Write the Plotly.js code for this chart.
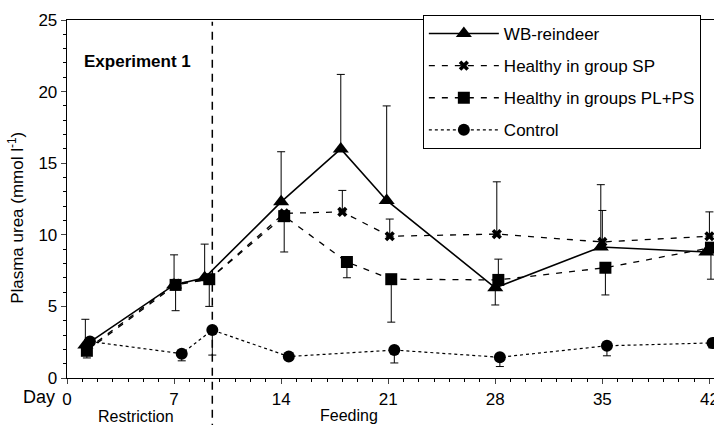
<!DOCTYPE html>
<html><head><meta charset="utf-8">
<script src="https://cdn.plot.ly/plotly-3.0.1.min.js"></script>
<style>html,body{margin:0;padding:0;background:#fff}#chart{width:714px;height:425px}</style>
</head><body><div id="chart"></div>
<script>
// WB-reindeer
const wbX = [1.2, 7.0, 9.0, 14.0, 17.9, 20.9, 28.0, 34.9, 41.8];
const wbY = [2.3, 6.5, 7.0, 12.3, 16.0, 12.4, 6.3, 9.15, 8.8];
const wbUp = [1.8, 2.1, 2.35, 3.5, 5.2, 6.6, 0, 4.35, 0];
const wbDown = [0, 0, 0, 0, 0, 0, 1.2, 0, 0];
// Healthy in group SP
const spX = [1.3, 7.1, 9.3, 14.2, 18.0, 21.1, 28.1, 35.0, 42.0];
const spY = [2.0, 6.6, 6.9, 11.5, 11.6, 9.9, 10.05, 9.5, 9.9];
const spUp = [0, 0, 0, 0, 1.5, 1.2, 3.65, 2.2, 1.7];
const spDown = [0, 0, 0, 0, 0, 0, 0, 0, 0];
// Healthy in groups PL+PS
const plX = [1.3, 7.1, 9.3, 14.2, 18.3, 21.2, 28.2, 35.2, 42.1];
const plY = [1.9, 6.5, 6.9, 11.3, 8.1, 6.9, 6.85, 7.7, 9.1];
const plUp = [0, 0, 0, 0, 0, 0, 1.45, 0, 0];
const plDown = [0.5, 1.8, 1.9, 2.5, 1.1, 3.0, 0, 1.9, 2.2];
// Control
const ctX = [1.5, 7.5, 9.5, 14.5, 21.4, 28.3, 35.3, 42.2];
const ctY = [2.55, 1.7, 3.35, 1.5, 1.95, 1.45, 2.25, 2.45];
const ctUp = [0, 0, 0, 0, 0, 0, 0, 0];
const ctDown = [0, 0.5, 1.75, 0, 0.9, 0.65, 0.7, 0.35];

const xTicks = [0, 7, 14, 21, 28, 35, 42];
const yTicks = [0, 5, 10, 15, 20, 25];
const dividerDay = 9.5;

const FONT = 'Liberation Sans, Arial, sans-serif';
function err(up, down) {
  return {type: 'data', symmetric: false, array: up, arrayminus: down,
          color: '#000', thickness: 1, width: 4};
}
const traces = [
  {x: wbX, y: wbY, name: 'WB-reindeer', mode: 'lines+markers', legendgroup: 'a',
   line: {color: '#000', width: 1.6}, marker: {symbol: 'triangle-up', size: 14, color: '#000'},
   error_y: err(wbUp, wbDown)},
  {x: spX, y: spY, name: 'Healthy in group SP', mode: 'lines+markers', legendgroup: 'b',
   line: {color: '#000', width: 1.3, dash: '6px,7px'}, marker: {symbol: 'x', size: 9, color: '#000'},
   error_y: err(spUp, spDown)},
  {x: plX, y: plY, name: 'Healthy in groups PL+PS', mode: 'lines+markers', legendgroup: 'c',
   line: {color: '#000', width: 1.3, dash: '6px,7px'}, marker: {symbol: 'square', size: 12, color: '#000'},
   error_y: err(plUp, plDown)},
  {x: ctX, y: ctY, name: 'Control', mode: 'lines+markers', legendgroup: 'd',
   line: {color: '#000', width: 1.2, dash: 'dot'}, marker: {symbol: 'circle', size: 12, color: '#000'},
   error_y: err(ctUp, ctDown)}
];

const layout = {
  width: 714, height: 425,
  margin: {l: 67, r: 0, t: 20, b: 47},
  paper_bgcolor: '#fff', plot_bgcolor: '#fff',
  font: {family: FONT, size: 17, color: '#000'},
  showlegend: true,
  legend: {x: 0.55, y: 1.014, xanchor: 'left', yanchor: 'top', bordercolor: '#000', borderwidth: 1,
           bgcolor: '#fff', traceorder: 'grouped', tracegroupgap: 7, itemwidth: 70,
           font: {family: FONT, size: 17, color: '#000'}},
  xaxis: {range: [0, 42.3], tickvals: xTicks, ticktext: xTicks.map(String), ticks: 'outside', ticklen: 5,
          showline: true, linecolor: '#000', linewidth: 1.3, mirror: true, showgrid: false, zeroline: false,
          tickfont: {size: 17}, ticklabeloverflow: 'allow',
          minor: {dtick: 1, ticks: 'outside', ticklen: 3, tickcolor: '#000', showgrid: false}},
  yaxis: {range: [0, 25], tickvals: yTicks, ticks: 'outside', ticklen: 5,
          showline: true, linecolor: '#000', linewidth: 1.3, showgrid: false, zeroline: false,
          tickfont: {size: 17},
          minor: {dtick: 1, ticks: 'outside', ticklen: 3, tickcolor: '#000', showgrid: false}},
  shapes: [{type: 'line', xref: 'x', yref: 'paper', x0: dividerDay, x1: dividerDay, y0: -0.15, y1: 0.995,
            line: {color: '#000', width: 1.5, dash: '8px,6px'}}],
  annotations: [
    {text: '<b>Experiment 1</b>', xref: 'x', yref: 'y', x: 1.0, y: 22.07, xanchor: 'left', yanchor: 'middle',
     showarrow: false, font: {size: 17}},
    {text: 'Day', xref: 'paper', yref: 'paper', x: -0.0155, y: -0.053, xanchor: 'right', yanchor: 'middle',
     showarrow: false, font: {size: 18}},
    {text: 'Restriction', xref: 'paper', yref: 'paper', x: 0.1066, y: -0.107, xanchor: 'center', yanchor: 'middle',
     showarrow: false, font: {size: 16}},
    {text: 'Feeding', xref: 'paper', yref: 'paper', x: 0.436, y: -0.105, xanchor: 'center', yanchor: 'middle',
     showarrow: false, font: {size: 16}},
    {text: 'Plasma urea (mmol l<sup>-1</sup>)', xref: 'paper', yref: 'y', x: -0.08, y: 11.2, xanchor: 'center',
     yanchor: 'middle', textangle: -90, showarrow: false, font: {size: 17}}
  ]
};
Plotly.newPlot('chart', traces, layout, {displayModeBar: false, staticPlot: true});
</script></body></html>
